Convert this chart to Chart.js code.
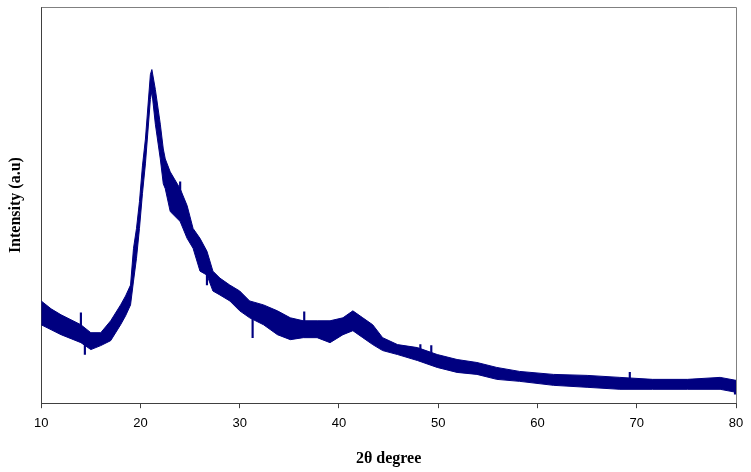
<!DOCTYPE html>
<html>
<head>
<meta charset="utf-8">
<script src="https://cdn.jsdelivr.net/npm/chart.js@4"></script>
<style>
  html, body { margin: 0; padding: 0; background: #fff; }
  #wrap { width: 751px; height: 472px; }
</style>
</head>
<body>
<div id="wrap"><canvas id="xrdChart" width="751" height="472"></canvas></div>
<script>
// 2-theta positions (degrees)
const twoTheta = [10, 11, 12, 13, 14, 15, 16, 17, 18, 18.5, 19, 19.3, 19.6, 19.9, 20.2, 20.5, 21, 21.15, 21.5, 22,
                  22.3, 22.5, 23, 24, 24.7, 25.3, 26, 26.7, 27.3, 28, 29, 30, 31, 32.4, 33.8, 35.1, 36.4, 37.8,
                  39.1, 40.4, 41.4, 42.4, 43.4, 44.4, 45.9, 47.9, 49.9, 51.9, 53.9, 55.9, 58.2, 61.6, 65,
                  68.3, 71.6, 75.1, 78.4, 80];
// top edge of the noisy trace (a.u.)
const upperI = [103, 95, 89, 84, 79, 71, 71, 83, 99, 108, 119, 156, 176, 203, 239, 266, 331, 336, 316, 281,
                256, 246, 233, 216, 199, 176, 166, 153, 133, 126, 119, 113, 103, 99, 93, 86, 83, 83,
                83, 86, 93, 86, 79, 66, 59, 56, 49, 44, 41, 36, 32, 29, 28,
                26, 24, 24, 26, 23];
// bottom edge of the noisy trace (a.u.)
const lowerI = [79, 74, 69, 65, 61, 54, 58, 63, 79, 88, 99, 123, 146, 176, 211, 241, 306, 314, 281, 246,
                221, 216, 193, 183, 166, 156, 133, 129, 113, 109, 103, 93, 86, 79, 69, 64, 66, 66,
                61, 69, 73, 66, 59, 53, 49, 43, 36, 31, 29, 24, 22, 18, 16,
                14, 14, 14, 14, 11];
// single noise spikes that stick out of the band: position, low, high
const spikeTheta = [14.0, 14.4, 24.0, 26.7, 31.3, 36.5, 48.2, 49.3, 69.3, 79.9];
const spikeLow   = [70, 49, 200, 119, 66, 75, 48, 46, 22, 9];
const spikeHigh  = [91, 62, 223, 130, 86, 92, 59, 58, 31, 20];
const xTicks = [10, 20, 30, 40, 50, 60, 70, 80];

const navy = 'rgb(0, 0, 128)';

const toPoints = (vals) => twoTheta.map((t, i) => ({ x: t, y: vals[i] }));
const spikePoints = spikeTheta.map((t, i) => ({ x: t, y: [spikeLow[i], spikeHigh[i]] }));

const frame = {
  id: 'frame',
  afterDraw(chart) {
    const a = chart.chartArea;
    const ctx = chart.ctx;
    ctx.save();
    ctx.strokeStyle = '#808080';
    ctx.lineWidth = 1;
    ctx.beginPath();
    ctx.moveTo(a.left + 0.5, a.top + 0.5);
    ctx.lineTo(a.right + 0.5, a.top + 0.5);
    ctx.lineTo(a.right + 0.5, a.bottom);
    ctx.stroke();
    ctx.restore();
  }
};

const data = {
  datasets: [{
    label: 'upper',
    data: toPoints(upperI),
    borderColor: navy,
    backgroundColor: navy,
    borderWidth: 1,
    pointRadius: 0,
    fill: '+1',
    tension: 0
  }, {
    label: 'lower',
    data: toPoints(lowerI),
    borderColor: navy,
    backgroundColor: navy,
    borderWidth: 1,
    pointRadius: 0,
    fill: false,
    tension: 0
  }, {
    type: 'bar',
    label: 'spikes',
    data: spikePoints,
    backgroundColor: navy,
    borderWidth: 0,
    barThickness: 1.5,
    grouped: false
  }]
};

const config = {
  type: 'line',
  data: data,
  options: {
    responsive: false,
    animation: false,
    layout: { padding: { top: 7, right: 15, left: 0, bottom: 0 } },
    plugins: { legend: { display: false }, tooltip: { enabled: false } },
    scales: {
      x: {
        type: 'linear',
        min: 10,
        max: 80,
        offset: false,
        afterBuildTicks: (axis) => { axis.ticks = xTicks.map(v => ({ value: v })); },
        ticks: {
          color: '#000',
          font: { family: '"Liberation Sans", Arial, sans-serif', size: 13 },
          padding: 7,
          maxRotation: 0
        },
        grid: {
          display: true,
          offset: false,
          drawOnChartArea: false,
          drawTicks: true,
          tickLength: 5,
          color: '#404040'
        },
        border: { display: true, color: '#404040', width: 1 },
        title: {
          display: true,
          text: '2θ degree',
          color: '#000',
          font: { family: '"Liberation Serif", "Times New Roman", serif', size: 16, weight: 'bold' },
          padding: { top: 11, bottom: 4 }
        }
      },
      y: {
        min: 0,
        max: 399,
        ticks: { display: false },
        grid: { display: false, drawTicks: false },
        border: { display: true, color: '#404040', width: 1 },
        title: {
          display: true,
          text: 'Intensity (a.u)',
          color: '#000',
          font: { family: '"Liberation Serif", "Times New Roman", serif', size: 16, weight: 'bold' },
          padding: { top: 6, bottom: 16 }
        }
      }
    }
  },
  plugins: [frame]
};

const myChart = new Chart(document.getElementById('xrdChart'), config);
</script>
</body>
</html>
